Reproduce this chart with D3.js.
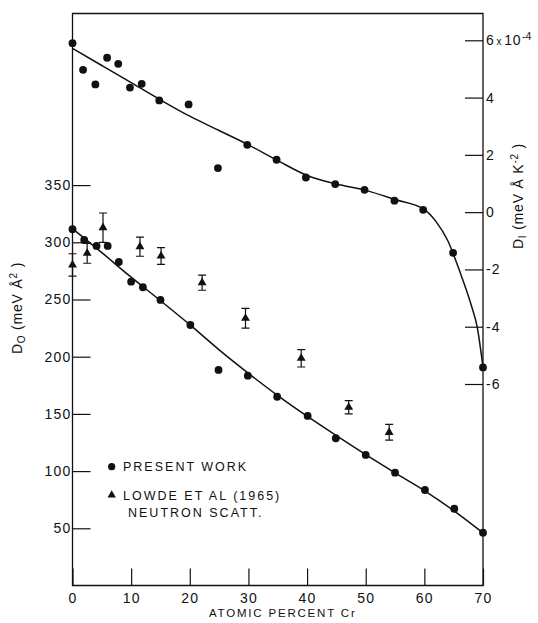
<!DOCTYPE html>
<html>
<head>
<meta charset="utf-8">
<script src="https://cdn.jsdelivr.net/npm/d3@7"></script>
<style>
  body { margin: 0; background: #fff; }
  svg { display: block; }
  text { font-family: "Liberation Sans", Arial, sans-serif; fill: #111; }
</style>
</head>
<body>
<svg id="chart" width="538" height="623"></svg>
<script>
// 1. Data

// D1 (upper set, right axis, units of 1e-4 meV A K^-2)
var d1Pct = [0, 1.8, 3.9, 5.9, 7.8, 9.8, 11.8, 14.8, 19.8, 24.8, 29.8, 34.8, 39.8, 44.8, 49.8, 54.9, 59.8, 64.9, 70];
var d1Values = [5.9, 4.97, 4.46, 5.39, 5.18, 4.35, 4.48, 3.9, 3.76, 1.54, 2.35, 1.83, 1.21, 0.98, 0.78, 0.4, 0.08, -1.42, -5.42];

// D0 (lower set, left axis, meV A^2) - present work
var d0Pct = [0, 2, 4.1, 6, 7.9, 10, 12, 15, 20.1, 24.9, 29.9, 34.9, 40.1, 44.9, 50, 55, 60.1, 65.1, 70];
var d0Values = [311.4, 302, 296.8, 296.8, 282.8, 265.6, 260.7, 249.6, 227.7, 188.4, 183.4, 165, 148.2, 128.7, 114.1, 98.6, 83.5, 67.1, 46.2];

// Lowde et al (1965) neutron scattering
var lowdePct = [0, 2.5, 5.2, 11.5, 15.1, 22.1, 29.5, 39, 47.1, 54];
var lowdeD0 = [280.2, 290.4, 312.8, 296.2, 288, 264.7, 233.6, 198.6, 155.8, 133.9];
var lowdeErr = [9.8, 8.7, 12.8, 8.4, 7.3, 6.6, 8.7, 7.6, 5.8, 6.9];

// hand drawn fit curves
var d0FitPct = [0, 5, 10, 15, 20, 25, 30, 35, 40, 45, 50, 55, 60, 65, 70];
var d0Fit = [312, 291, 269.5, 249, 228, 206, 185.5, 166, 148, 131, 114.5, 98.5, 83, 65.5, 46];
var d1FitPct = [0, 5, 10, 15, 20, 25, 30, 35, 40, 45, 50, 55, 60, 62, 64, 66, 68, 69, 70];
var d1Fit = [5.72, 5.12, 4.52, 3.92, 3.35, 2.85, 2.35, 1.8, 1.28, 0.98, 0.76, 0.44, 0.09, -0.33, -1.0, -2.05, -3.25, -4.0, -5.42];

// tick labels
var xTicks = [0, 10, 20, 30, 40, 50, 60, 70];
var d0Ticks = [50, 100, 150, 200, 250, 300, 350];
var d1Ticks = [6, 4, 2, 0, -2, -4, -6];

// 2. Scales

var svg = d3.select("#chart");

var x = d3.scaleLinear().domain([0, 70]).range([72.5, 483]);
var yD0 = d3.scaleLinear().domain([0, 500]).range([585.5, 13.5]);
var yD1 = d3.scaleLinear().domain([-6, 6]).range([384, 40.3]);

// 3. Frame and axes

var frame = svg.append("g")
    .attr("stroke", "#111")
    .attr("stroke-width", 1.3)
    .attr("fill", "none");

frame.append("path")
    .attr("d", "M" + x(0) + "," + yD0(0) + "V" + yD0(500) + "H" + x(70) + "V" + yD0(0) + "Z");

var xAxis = svg.append("g")
    .attr("transform", "translate(0," + yD0(0) + ")")
    .call(d3.axisBottom(x).tickValues(xTicks).tickSize(-17).tickPadding(4).tickFormat(function (d) { return d }))

var leftAxis = svg.append("g")
    .attr("transform", "translate(" + x(0) + ",0)")
    .call(d3.axisLeft(yD0).tickValues(d0Ticks).tickSize(-18).tickPadding(1).tickFormat(function (d) { return d }))

var rightAxis = svg.append("g")
    .attr("transform", "translate(" + x(70) + ",0)")
    .call(d3.axisRight(yD1).tickValues(d1Ticks).tickSize(-18).tickPadding(3)
        .tickFormat(function (d) { return d == 6 ? "" : String(d) }))

svg.selectAll(".domain").remove();
svg.selectAll(".tick line").attr("stroke", "#111").attr("stroke-width", 1.2);
svg.selectAll(".tick text")
    .style("font-size", "14px")
    .style("letter-spacing", "1.2px")
    .attr("fill", "#111");

xAxis.selectAll(".tick text").attr("dy", "0.95em");

// "6 x 10^-4" label, kept compact so it fits inside the page
var sixLabel = rightAxis.selectAll(".tick text")
    .filter(function (d) { return d == 6 })
    .style("letter-spacing", "0px");
sixLabel.append("tspan").text("6");
sixLabel.append("tspan").style("font-size", "10px").text(" x ");
sixLabel.append("tspan").style("letter-spacing", "0.5px").text("10");
sixLabel.append("tspan")
    .attr("dy", "-0.55em")
    .attr("dx", "1")
    .style("font-size", "10.5px")
    .text("-4");

// axis titles
svg.append("text")
    .attr("x", (x(0) + x(70)) / 2 + 5)
    .attr("y", 617)
    .attr("text-anchor", "middle")
    .style("font-size", "11.5px")
    .style("letter-spacing", "1.8px")
    .text("ATOMIC PERCENT Cr");

var leftTitle = svg.append("text")
    .attr("transform", "translate(22,308) rotate(-90)")
    .attr("text-anchor", "middle")
    .style("font-size", "14px")
    .style("letter-spacing", "0.8px");
leftTitle.append("tspan").text("D");
leftTitle.append("tspan").attr("dy", "3").style("font-size", "10px").text("O");
leftTitle.append("tspan").attr("dy", "-3").text(" (meV Å");
leftTitle.append("tspan").attr("dy", "-5").style("font-size", "10px").text("2");
leftTitle.append("tspan").attr("dy", "5").text(" )");

var rightTitle = svg.append("text")
    .attr("transform", "translate(523,196) rotate(-90)")
    .attr("text-anchor", "middle")
    .style("font-size", "14px")
    .style("letter-spacing", "0.8px");
rightTitle.append("tspan").text("D");
rightTitle.append("tspan").attr("dy", "3").style("font-size", "10px").text("I");
rightTitle.append("tspan").attr("dy", "-3").text(" (meV Å K");
rightTitle.append("tspan").attr("dy", "-5").style("font-size", "10px").text("-2");
rightTitle.append("tspan").attr("dy", "5").text(" )");

// 4. Fit curves

var d0Line = d3.line()
    .x(function (d, i) { return x(d0FitPct[i]) })
    .y(function (d) { return yD0(d) })
    .curve(d3.curveMonotoneX);

var d1Line = d3.line()
    .x(function (d, i) { return x(d1FitPct[i]) })
    .y(function (d) { return yD1(d) })
    .curve(d3.curveMonotoneX);

svg.append("path")
    .datum(d0Fit)
    .attr("d", d0Line)
    .attr("fill", "none")
    .attr("stroke", "#111")
    .attr("stroke-width", 1.5);

svg.append("path")
    .datum(d1Fit)
    .attr("d", d1Line)
    .attr("fill", "none")
    .attr("stroke", "#111")
    .attr("stroke-width", 1.5);

// 5. Points

svg.append("g").selectAll("circle")
    .data(d0Values)
    .enter()
    .append("circle")
    .attr("cx", function (d, i) { return x(d0Pct[i]) })
    .attr("cy", function (d) { return yD0(d) })
    .attr("r", 3.9)
    .attr("fill", "#111");

svg.append("g").selectAll("circle")
    .data(d1Values)
    .enter()
    .append("circle")
    .attr("cx", function (d, i) { return x(d1Pct[i]) })
    .attr("cy", function (d) { return yD1(d) })
    .attr("r", 3.9)
    .attr("fill", "#111");

// Lowde triangles with error bars
var lowde = svg.append("g")
    .selectAll("g")
    .data(lowdeD0)
    .enter()
    .append("g")
    .attr("transform", function (d, i) { return "translate(" + x(lowdePct[i]) + ",0)" });

lowde.append("path")
    .attr("d", function (d, i) {
        var top = yD0(d + lowdeErr[i]), bot = yD0(d - lowdeErr[i]);
        return "M0," + top + "V" + bot + "M-4," + top + "H4M-4," + bot + "H4";
    })
    .attr("stroke", "#111")
    .attr("stroke-width", 1.2)
    .attr("fill", "none");

lowde.append("path")
    .attr("d", d3.symbol(d3.symbolTriangle, 34))
    .attr("transform", function (d) { return "translate(0," + yD0(d) + ")" })
    .attr("fill", "#111");

// 6. Legend

var legend = svg.append("g").style("font-size", "12.5px").style("letter-spacing", "2px");

legend.append("circle").attr("cx", 111.7).attr("cy", 466.7).attr("r", 3.6).attr("fill", "#111");
legend.append("text").attr("x", 123).attr("y", 471.3).text("PRESENT WORK");

legend.append("path")
    .attr("d", d3.symbol(d3.symbolTriangle, 30))
    .attr("transform", "translate(111.7,495)")
    .attr("fill", "#111");
legend.append("text").attr("x", 123).attr("y", 499.5).text("LOWDE ET AL (1965)");
legend.append("text").attr("x", 128).attr("y", 516.5).text("NEUTRON  SCATT.");
</script>
</body>
</html>
